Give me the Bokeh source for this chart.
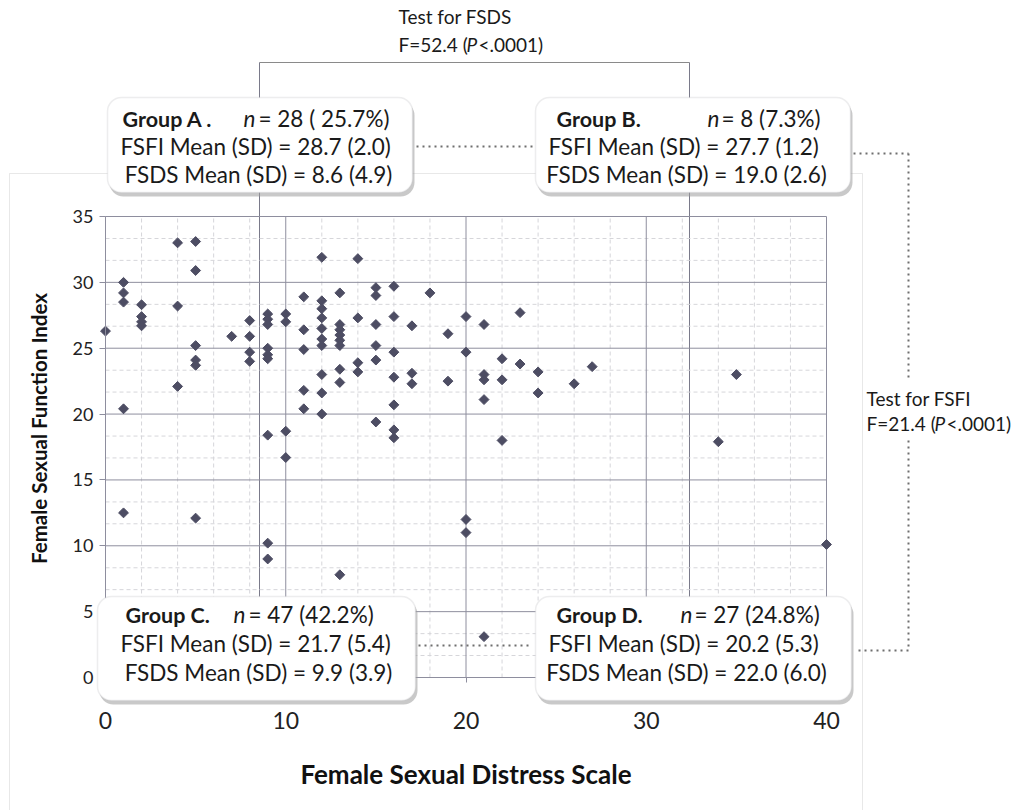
import numpy as np
from bokeh.plotting import figure
from bokeh.models import BoxAnnotation, Label, Arrow, Range1d, FixedTicker, LinearAxis
from bokeh.embed import file_html
from bokeh.resources import INLINE

# ---------------- data ----------------
fsds = [0,
        1, 1, 1, 1, 1,
        2, 2, 2, 2,
        4, 4, 4,
        5, 5, 5, 5, 5, 5,
        7,
        8, 8, 8, 8,
        9, 9, 9, 9, 9, 9, 9, 9, 9,
        10, 10, 10, 10,
        11, 11, 11, 11, 11,
        12, 12, 12, 12, 12, 12, 12, 12, 12, 12,
        13, 13, 13, 13, 13, 13, 13, 13, 13,
        14, 14, 14, 14,
        15, 15, 15, 15, 15, 15,
        16, 16, 16, 16, 16, 16, 16,
        17, 17, 17,
        18,
        19, 19,
        20, 20, 20, 20,
        21, 21, 21, 21, 21,
        22, 22, 22,
        23, 23,
        24, 24,
        26, 27, 34, 35, 40]
fsfi = [26.3,
        30.0, 29.2, 28.5, 20.4, 12.5,
        28.3, 27.4, 27.0, 26.7,
        33.0, 28.2, 22.1,
        33.1, 30.9, 25.2, 24.1, 23.7, 12.1,
        25.9,
        27.1, 25.9, 24.7, 24.0,
        27.6, 27.2, 26.8, 25.0, 24.5, 24.2, 18.4, 10.2, 9.0,
        27.6, 27.0, 18.7, 16.7,
        28.9, 26.4, 24.9, 21.8, 20.4,
        31.9, 28.6, 28.0, 27.3, 26.5, 25.7, 25.2, 23.0, 21.6, 20.0,
        29.2, 26.8, 26.4, 26.0, 25.6, 25.2, 23.4, 22.4, 7.8,
        31.8, 27.3, 23.9, 23.2,
        29.6, 29.0, 26.8, 25.2, 24.1, 19.4,
        29.7, 27.4, 24.7, 22.8, 20.7, 18.8, 18.2,
        26.7, 23.1, 22.3,
        29.2,
        26.1, 22.5,
        27.4, 24.7, 12.0, 11.0,
        26.8, 23.0, 22.6, 21.1, 3.1,
        24.2, 22.6, 18.0,
        27.7, 23.8,
        23.2, 21.6,
        22.3, 23.6, 17.9, 23.0, 10.1]

x_ticks = [0, 10, 20, 30, 40]
x_minor = [2, 4, 6, 8, 12, 14, 16, 18, 22, 24, 26, 28, 32, 34, 36, 38]
y_ticks = [0, 5, 10, 15, 20, 25, 30, 35]
y_minor = [1.67, 3.33, 6.67, 8.33, 11.67, 13.33, 16.67, 18.33, 21.67, 23.33,
           26.67, 28.33, 31.67, 33.33]
x_min, x_max = 0, 40
y_min, y_max = 0, 35

groups = ["Group A .", "Group B.", "Group C.", "Group D."]
group_n = ["= 28 ( 25.7%)", "= 8 (7.3%)", "= 47 (42.2%)", "= 27 (24.8%)"]
fsfi_stats = ["FSFI  Mean (SD) = 28.7 (2.0)", "FSFI  Mean (SD) = 27.7 (1.2)",
              "FSFI  Mean (SD) = 21.7 (5.4)", "FSFI  Mean (SD) = 20.2 (5.3)"]
fsds_stats = ["FSDS Mean (SD) = 8.6 (4.9)", "FSDS Mean (SD) = 19.0 (2.6)",
              "FSDS Mean (SD) = 9.9 (3.9)", "FSDS Mean (SD) = 22.0 (6.0)"]
test_fsds = ["Test for FSDS", "F=52.4 (", "P", "<.0001)"]
test_fsfi = ["Test for FSFI", "F=21.4 (", "P", "<.0001)"]

FONT = "Lato"
W, H = 1030, 810

# page pixel -> data coordinates (plot area: x 105..826, y 216..677 on the page)
def X(px):
    return (px - 105.0) * 40.0 / 721.0

def Y(py):
    return (677.0 - py) * 35.0 / 461.0

# ---------------- figure (frame = whole canvas, axes fixed at 0) ----------------
p = figure(width=W, height=H, min_border=0,
           x_range=Range1d(X(0), X(W)), y_range=Range1d(Y(H), Y(0)),
           x_axis_type=None, y_axis_type=None,
           output_backend="svg", toolbar_location=None,
           background_fill_color="white", border_fill_color="white")
p.outline_line_color = None

# chart-area border
p.add_layout(BoxAnnotation(left=X(9), right=X(862), top=Y(173), bottom=Y(1200),
                           fill_alpha=0, line_color="#b4b4b4", line_width=1,
                           level="underlay"))

# grid lines from the tick lists
p.segment(x0=x_minor, y0=y_min, x1=x_minor, y1=y_max, line_color="#d6d6da",
          line_width=1, line_dash="4 3")
p.segment(x0=x_min, y0=y_minor, x1=x_max, y1=y_minor, line_color="#d6d6da",
          line_width=1, line_dash="4 3")
p.segment(x0=x_ticks, y0=y_min, x1=x_ticks, y1=y_max, line_color="#8e8e9e", line_width=1)
p.segment(x0=x_min, y0=y_ticks, x1=x_max, y1=y_ticks, line_color="#8e8e9e", line_width=1)

# axes at 0
xax = LinearAxis(fixed_location=0, bounds=(x_min, x_max),
                 ticker=FixedTicker(ticks=x_ticks))
yax = LinearAxis(fixed_location=0, bounds=(y_min, y_max),
                 ticker=FixedTicker(ticks=y_ticks))
for ax in (xax, yax):
    ax.axis_line_color = "#8e8e9e"
    ax.major_tick_line_color = "#8e8e9e"
    ax.minor_tick_line_color = None
    ax.major_tick_in = 0
    ax.major_label_text_font = FONT
    ax.major_label_text_color = "#222222"
    ax.axis_label_text_font = FONT
    ax.axis_label_text_font_style = "bold"
    ax.axis_label_text_color = "#111111"
xax.major_tick_out = 5
xax.major_label_standoff = 29
xax.major_label_text_font_size = "23px"
xax.axis_label = "Female Sexual Distress Scale"
xax.axis_label_text_font_size = "26px"
xax.axis_label_standoff = 26
yax.major_tick_out = 6
yax.major_label_standoff = 6
yax.major_label_text_font_size = "18px"
p.add_layout(xax, "below")
p.add_layout(yax, "left")

def seg(x0, y0, x1, y1, color, width, dash="solid", level="annotation"):
    p.add_layout(Arrow(end=None, x_start=X(x0), y_start=Y(y0), x_end=X(x1), y_end=Y(y1),
                       line_color=color, line_width=width, line_dash=dash, level=level))

# bracket for the FSDS test
seg(259, 62, 689, 62, "#8a8a8a", 1, level="underlay")
seg(259, 62, 259, 677, "#7a7a8a", 1, level="underlay")
seg(689, 62, 689, 677, "#7a7a8a", 1, level="underlay")

# points
p.scatter(fsds, fsfi, marker="square", angle=np.pi / 4, size=7,
          fill_color="#4d4d63", line_color="#4d4d63")

def lab(px, py, text, size="22.5px", style="normal", align="left", angle=0.0, color="#1a1a1a"):
    p.add_layout(Label(x=X(px), y=Y(py), text=text, text_align=align, text_baseline="middle",
                       text_font=FONT, text_font_size=size, text_font_style=style,
                       text_color=color, angle=angle))

# y axis title
lab(38, 428, "Female Sexual Function Index", size="20.5px", style="bold", align="center",
    angle=np.pi / 2, color="#111111")

# group boxes (page coords: left, top, right, bottom)
boxes = [(107, 97, 412, 192), (535, 97, 850, 192), (97, 596, 415, 700), (535, 596, 851, 700)]
title_x = [122, 556, 125, 556]
n_x = [243, 707, 233, 680]
rest_x = [258, 721, 248, 694]
center_x = [258, 686, 258, 686]
line_y = [(118, 146, 174), (118, 146, 174), (614, 643, 672), (614, 643, 672)]

for i, (l, t, r, b) in enumerate(boxes):
    p.add_layout(BoxAnnotation(left=X(l + 2), right=X(r + 2), top=Y(t + 4), bottom=Y(b + 4),
                               fill_color="#9c9c9c", fill_alpha=0.55, line_color=None,
                               border_radius=14))
    p.add_layout(BoxAnnotation(left=X(l), right=X(r), top=Y(t), bottom=Y(b),
                               fill_color="white", fill_alpha=1.0, line_color="#c4c4c8",
                               line_width=1.5, border_radius=14))
    y1, y2, y3 = line_y[i]
    lab(title_x[i], y1, groups[i], size="21.5px", style="bold")
    lab(n_x[i], y1, "n", style="italic")
    lab(rest_x[i], y1, group_n[i])
    lab(center_x[i], y2, fsfi_stats[i], align="center")
    lab(center_x[i], y3, fsds_stats[i], align="center")

# dotted connectors
DOT = "#6e6e6e"
seg(416, 146, 532, 146, DOT, 2, "2 4")
seg(418, 645, 532, 645, DOT, 2, "2 4")
seg(853, 153, 908, 153, DOT, 2, "2 4")
seg(908, 153, 908, 378, DOT, 2, "2 4")
seg(908, 440, 908, 650, DOT, 2, "2 4")
seg(908, 650, 856, 650, DOT, 2, "2 4")

# test texts
lab(398, 16, test_fsds[0], size="19px")
lab(398, 44, test_fsds[1], size="19px")
lab(466, 44, test_fsds[2], size="19px", style="italic")
lab(478, 44, test_fsds[3], size="19px")

lab(866, 398, test_fsfi[0], size="19px")
lab(866, 423, test_fsfi[1], size="19px")
lab(934, 423, test_fsfi[2], size="19px", style="italic")
lab(946, 423, test_fsfi[3], size="19px")

open("out.html", "w").write(file_html(p, INLINE))
